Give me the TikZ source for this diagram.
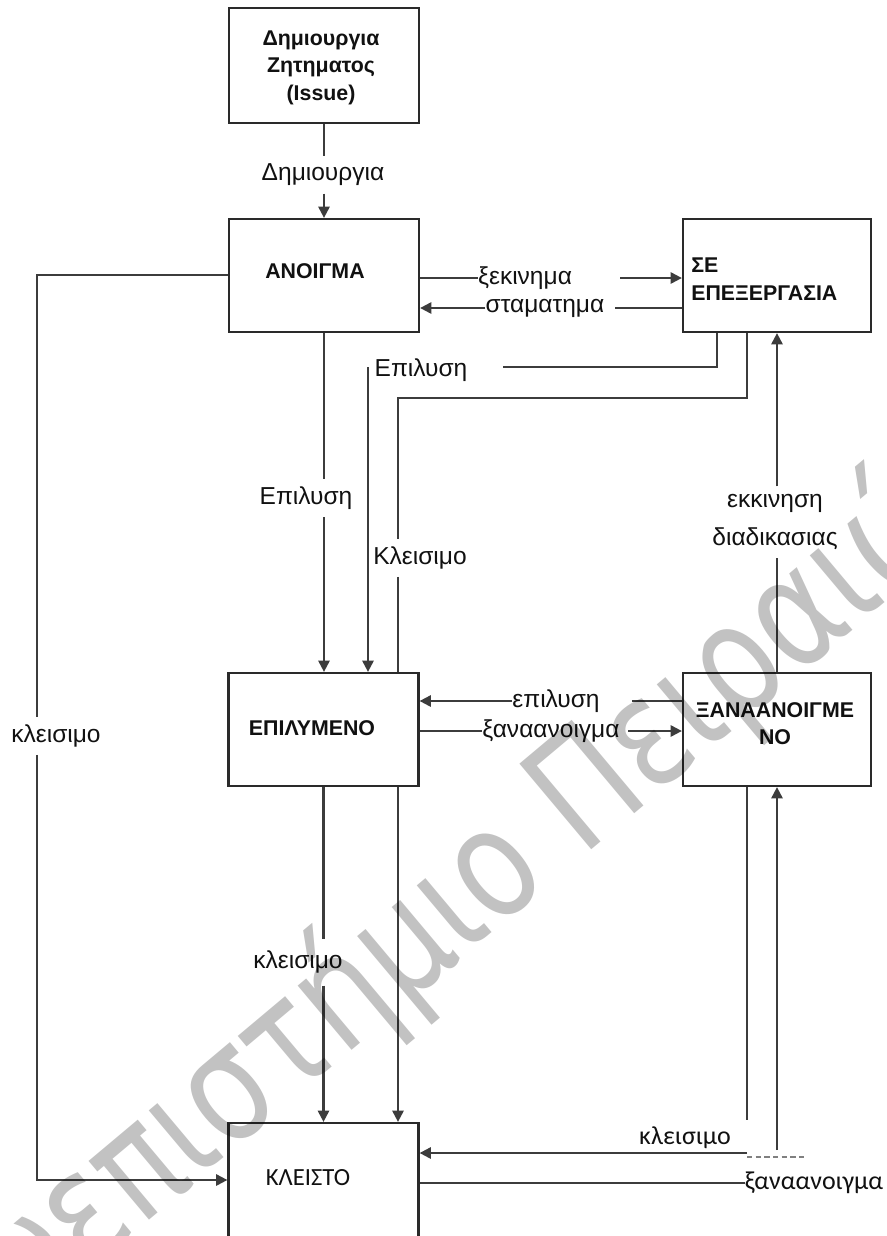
\documentclass[tikz,border=0pt]{standalone}
\usepackage{fontspec}
\setmainfont{Liberation Sans}
\newfontfamily\calibrifont{Carlito}
\newfontfamily\wmfont{DejaVu Sans}
\usetikzlibrary{arrows.meta,backgrounds}

\definecolor{txtcol}{HTML}{111111}
\definecolor{linecol}{HTML}{3C3C3C}
\definecolor{boxcol}{HTML}{2A2A2A}

\begin{document}
\begin{tikzpicture}[x=0.75pt,y=-0.75pt,
  state/.style={draw=boxcol, fill=white, line width=1.7pt, minimum width=142.5pt,
    minimum height=84.75pt, inner sep=0pt},
  stxt/.style={font=\fontsize{16}{20.6}\selectfont\bfseries, text=txtcol, inner sep=0pt, align=center},
  lbl/.style={font=\fontsize{18.4}{21.75}\selectfont, text=txtcol, inner xsep=0pt, inner ysep=5.5pt, align=center},
  cal/.style={font=\calibrifont\fontsize{19.5}{23}\selectfont},
  conn/.style={draw=linecol, line width=1.6pt},
  arr/.style={conn, -{Triangle[length=8.5pt,width=8.5pt]}},
  wm/.style={font=\wmfont\fontsize{115}{120}\selectfont, text=black, text opacity=0.24, inner sep=0pt}]

\useasboundingbox (0,0) rectangle (887,1236);

% states
\node[state, minimum height=86.25pt] (issue) at (324,65.5) {};
\node[state] (open)   at (324,275.5) {};
\node[state, minimum width=141pt] (prog) at (777,275.5) {};
\node[state] (res)    at (323.5,729.5) {};
\node[state, minimum width=141pt] (reop) at (777,729.5) {};
\node[state, minimum height=105pt] (closed) at (323.5,1193) {};

% state captions
\node[stxt] (issue-t) at (321,67.5) {Δημιουργια\\Ζητηματος\\(Issue)};
\node[stxt] (open-t) at (315,271) {ΑΝΟΙΓΜΑ};
\node[stxt, anchor=west, align=left, font=\fontsize{16}{21}\selectfont\bfseries] (prog-t) at (691,279) {ΣΕ\\ΕΠΕΞΕΡΓΑΣΙΑ};
\node[stxt] (res-t) at (312,728) {ΕΠΙΛΥΜΕΝΟ};
\node[stxt, font=\fontsize{16}{20.5}\selectfont\bfseries] (reop-t) at (775,723.5) {ΞΑΝΑΑΝΟΙΓΜΕ\\ΝΟ};
\node[stxt, font=\calibrifont\fontsize{18.5}{22}\selectfont] (closed-t) at (308,1178) {ΚΛΕΙΣΤΟ};

% transition labels
\node[lbl] (l-create) at (323,175) {Δημιουργια};
\node[lbl] (l-start) at (525,278) {ξεκινημα};
\node[lbl] (l-stop) at (545,308) {σταματημα};
\node[lbl] (l-res-a) at (421,370) {Επιλυση};
\node[lbl] (l-res-b) at (306,498) {Επιλυση};
\node[lbl] (l-close-a) at (420,558) {Κλεισιμο};
\node[lbl] (l-close-l) at (56,736) {κλεισιμο};
\node[lbl] (l-res-c) at (556,701) {επιλυση};
\node[lbl] (l-reopen-a) at (551,731) {ξαναανοιγμα};
\node[lbl, font=\fontsize{18.4}{29}\selectfont] (l-begin) at (775,522) {εκκινηση\\διαδικασιας};
\node[lbl, inner ysep=9pt] (l-close-b) at (298,962) {κλεισιμο};
\node[lbl, cal] (l-close-c) at (685,1138) {κλεισιμο};
\node[lbl, cal] (l-reopen-b) at (814,1183) {ξαναανοιγμα};

% bends and free ends of the connectors
\coordinate (start-r) at (620,278);
\coordinate (stop-r) at (615,308);
\coordinate (resA-c) at (717,367);
\coordinate (resA-e) at (503,367);
\coordinate (resA-s) at (368,367);
\coordinate (closeA-c1) at (747,398);
\coordinate (closeA-c2) at (398,398);
\coordinate (closeL-c1) at (37,275);
\coordinate (closeL-c2) at (37,1180);
\coordinate (resC-r) at (632,701);
\coordinate (reopA-r) at (628,731);
\coordinate (closeC-v) at (747,1120);
\coordinate (closeC-h) at (747,1153);
\coordinate (reopB-v) at (777,1150);
\coordinate (dash-a) at (747,1157);
\coordinate (dash-b) at (806,1157);

\begin{scope}[on background layer]
  \fill[white] (0,0) rectangle (887,1236);
  % creation
  \draw[conn] (issue.south) -- (issue.south |- l-create.north);
  \draw[arr] (issue.south |- l-create.south) -- (open.north -| issue.south);
  % start / stop work
  \draw[conn] (open.east |- l-start) -- (l-start.west);
  \draw[arr] (start-r) -- (prog.west |- start-r);
  \draw[conn] (prog.west |- stop-r) -- (stop-r);
  \draw[arr] (l-stop.west) -- (open.east |- l-stop);
  % resolve from in-progress
  \draw[conn] (prog.south -| resA-c) -- (resA-c) -- (resA-e);
  \draw[arr] (resA-s) -- (res.north -| resA-s);
  % close from in-progress
  \draw[conn] (prog.south -| closeA-c1) -- (closeA-c1) -- (closeA-c2) -- (closeA-c2 |- l-close-a.north);
  \draw[arr] (closeA-c2 |- l-close-a.south) -- (closed.north -| closeA-c2);
  % resolve from open
  \draw[conn] (open.south) -- (open.south |- l-res-b.north);
  \draw[arr] (open.south |- l-res-b.south) -- (res.north -| open.south);
  % close from open
  \draw[conn] (open.west |- closeL-c1) -- (closeL-c1) -- (closeL-c1 |- l-close-l.north);
  \draw[arr] (closeL-c2 |- l-close-l.south) -- (closeL-c2) -- (closed.west |- closeL-c2);
  % resolve / reopen between resolved and reopened
  \draw[conn] (reop.west |- resC-r) -- (resC-r);
  \draw[arr] (l-res-c.west) -- (res.east |- l-res-c);
  \draw[conn] (res.east |- l-reopen-a) -- (l-reopen-a.west);
  \draw[arr] (reopA-r) -- (reop.west |- reopA-r);
  % start progress from reopened
  \draw[conn] (reop.north) -- (reop.north |- l-begin.south);
  \draw[arr] (reop.north |- l-begin.north) -- (prog.south -| reop.north);
  % close from resolved
  \draw[conn] (res.south) -- (res.south |- l-close-b.north);
  \draw[arr] (res.south |- l-close-b.south) -- (closed.north -| res.south);
  % close from reopened
  \draw[conn] (reop.south -| closeC-v) -- (closeC-v);
  \draw[arr] (closeC-h) -- (closed.east |- closeC-h);
  % reopen from closed
  \draw[conn] (closed.east |- l-reopen-b) -- (l-reopen-b.west);
  \draw[arr] (reopB-v) -- (reop.south -| reopB-v);
  \draw[draw=gray, line width=0.8pt, dash pattern=on 4pt off 2.5pt] (dash-a) -- (dash-b);
\end{scope}

% watermark
\node[wm, anchor=base, rotate=40, xscale=0.8] (wm) at (463,957) {Πανεπιστήμιο Πειραιώς};
\end{tikzpicture}
\end{document}
